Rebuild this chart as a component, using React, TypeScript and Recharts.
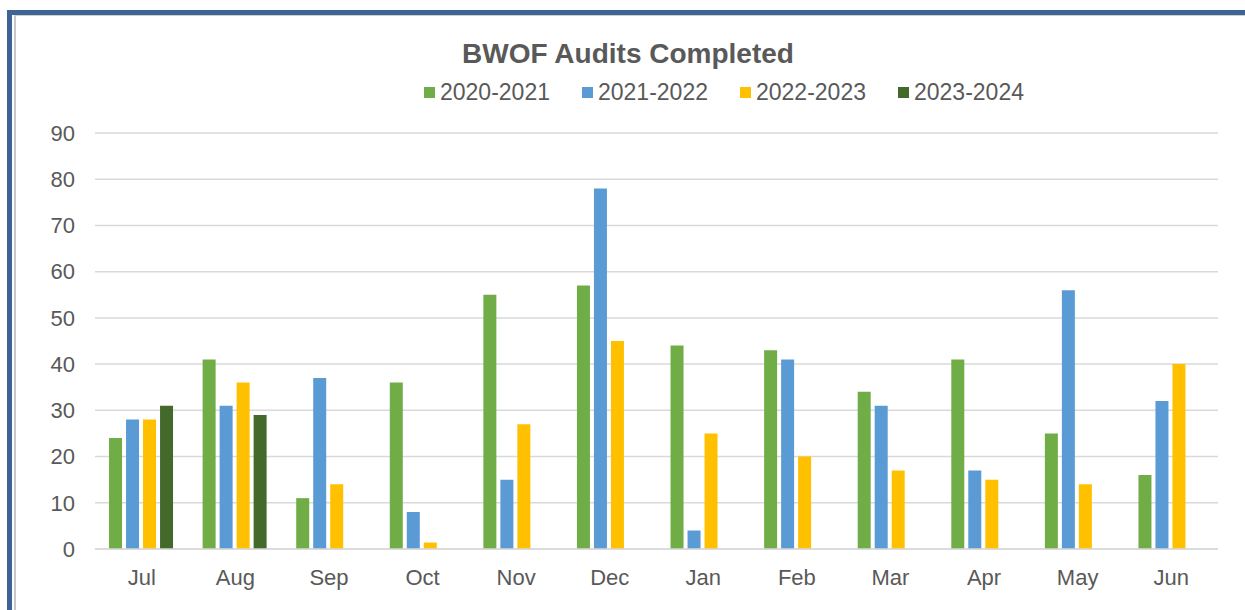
import React from "react";
import { BarChart, Bar, XAxis, YAxis, CartesianGrid, Legend } from "recharts";

const months = ["Jul", "Aug", "Sep", "Oct", "Nov", "Dec", "Jan", "Feb", "Mar", "Apr", "May", "Jun"];
const fy2021 = [24, 41, 11, 36, 55, 57, 44, 43, 34, 41, 25, 16];
const fy2122 = [28, 31, 37, 8, 15, 78, 4, 41, 31, 17, 56, 32];
const fy2223 = [28, 36, 14, 1.4, 27, 45, 25, 20, 17, 15, 14, 40];
const fy2324: (number | null)[] = [31, 29, null, null, null, null, null, null, null, null, null, null];
const seriesNames = ["2020-2021", "2021-2022", "2022-2023", "2023-2024"];
const seriesColors = ["#70AD47", "#5B9BD5", "#FFC000", "#436A2B"];
const yTicks = [0, 10, 20, 30, 40, 50, 60, 70, 80, 90];

const data = months.map((m, i) => ({
  month: m,
  s1: fy2021[i],
  s2: fy2122[i],
  s3: fy2223[i],
  s4: fy2324[i],
}));

const keys = ["s1", "s2", "s3", "s4"];
const textColor = "#595959";
const font = "'Liberation Sans', Arial, sans-serif";

const LegendContent = () => (
  <div style={{ display: "flex", justifyContent: "flex-start", height: 28, alignItems: "center", fontFamily: font, fontSize: 23, color: textColor, paddingLeft: 424 }}>
    {seriesNames.map((n, i) => (
      <div key={n} style={{ display: "flex", alignItems: "center", width: 158 }}>
        <span style={{ display: "inline-block", width: 11, height: 11, background: seriesColors[i], marginRight: 5 }} />
        <span>{n}</span>
      </div>
    ))}
  </div>
);

export default function App() {
  return (
    <div style={{ position: "absolute", left: 0, top: 0, width: 1245, height: 610, background: "#fff", overflow: "hidden" }}>
      <div style={{ position: "absolute", left: 7, top: 10, width: 1238, height: 600, borderTop: "5px solid #3D6494", borderLeft: "5px solid #3D6494", boxSizing: "border-box" }} />
      <div style={{ position: "absolute", left: 14, top: 15, width: 1231, height: 595, borderTop: "1px solid #d0d0d0", borderLeft: "2px solid #c8c8c8", boxSizing: "border-box" }} />
      <div style={{ position: "absolute", left: 0, top: 38, width: 1256, textAlign: "center", fontFamily: font, fontSize: 28, fontWeight: "bold", color: textColor }}>
        BWOF Audits Completed
      </div>
      <div style={{ position: "absolute", left: 0, top: 0 }}>
        <BarChart width={1245} height={610} data={data} margin={{ top: 105, right: 27, bottom: 31, left: 0 }} barCategoryGap="15%" barGap={4}>
          <CartesianGrid vertical={false} stroke="#d9d9d9" strokeWidth={1.5} />
          <XAxis dataKey="month" axisLine={{ stroke: "#d9d9d9", strokeWidth: 1.5 }} tickLine={false} tickSize={0} tickMargin={20} tick={{ fontSize: 22, fill: textColor, fontFamily: font }} />
          <YAxis width={95} domain={[0, 90]} ticks={yTicks} axisLine={false} tickLine={false} tickSize={0} tickMargin={20} tick={{ fontSize: 22, fill: textColor, fontFamily: font }} />
          <Legend verticalAlign="top" wrapperStyle={{ top: 78, left: 0, width: 1245 }} content={<LegendContent />} />
          {keys.map((k, i) => (
            <Bar key={k} dataKey={k} name={seriesNames[i]} fill={seriesColors[i]} isAnimationActive={false} />
          ))}
        </BarChart>
      </div>
    </div>
  );
}
